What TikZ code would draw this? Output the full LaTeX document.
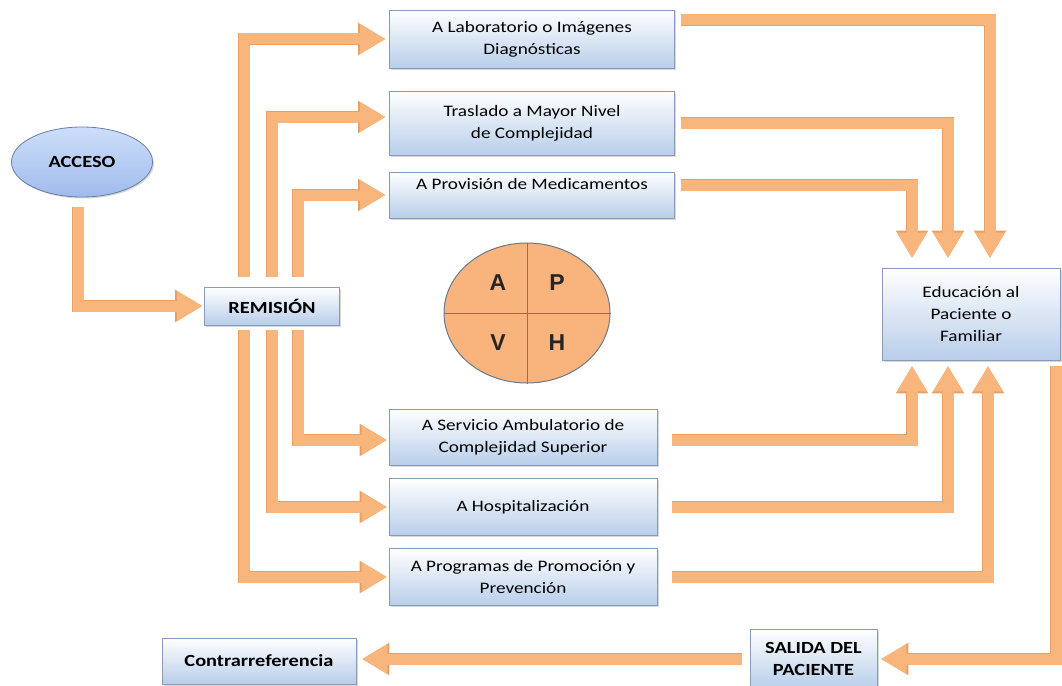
\documentclass[tikz,border=0pt]{standalone}
\usepackage{fontspec}
\setmainfont{Carlito}[FakeStretch=1.2]
\newfontfamily\letterfont{Liberation Sans}
\usetikzlibrary{arrows.meta,shadows,shapes.geometric}
\definecolor{arrfill}{RGB}{249,182,124}
\definecolor{arredge}{RGB}{233,160,100}
\definecolor{boxbot}{RGB}{184,206,234}
\definecolor{boxedge}{RGB}{135,155,185}
\definecolor{ovaltop}{RGB}{205,222,250}
\definecolor{ovalbot}{RGB}{160,188,236}
\definecolor{ovaledge}{RGB}{105,125,165}
\definecolor{apvhfill}{RGB}{248,180,124}
\definecolor{apvhedge}{RGB}{110,120,140}
\begin{document}
\begin{tikzpicture}[x=1pt,y=-1pt,
  box/.style={draw=boxedge, line width=0.8pt, top color=white, bottom color=boxbot,
    drop shadow={shadow xshift=1.5pt,shadow yshift=-1.5pt,opacity=0.3},
    align=center, font=\fontsize{16}{22}\selectfont, inner sep=2pt},
  boldbox/.style={box, font=\fontsize{17}{22}\selectfont\bfseries},
  arr/.style={draw=arrfill, line width=11pt, line join=miter,
    -{Triangle[width=30pt,length=25pt,line width=0pt]},
    preaction={draw=arredge, line width=12.6pt, line join=miter,
      -{Triangle[width=32.5pt,length=27pt,line width=0pt]}}},
  letter/.style={font=\letterfont\bfseries\fontsize{23}{23}\selectfont, text=black!85}
]
\fill[white] (0,0) rectangle (1062,685);
\useasboundingbox (0,0) rectangle (1062,685);

% nodes
\node[ellipse, draw=ovaledge, line width=0.8pt, top color=ovaltop, bottom color=ovalbot,
  drop shadow={shadow xshift=1.5pt,shadow yshift=-1.5pt,opacity=0.3},
  minimum width=141pt, minimum height=70pt, inner sep=0pt,
  font=\fontsize{17}{22}\selectfont\bfseries] (acceso) at (82,162) {ACCESO};
\node[boldbox, minimum width=135pt, minimum height=38pt] (remision) at (272,306) {REMISIÓN};

\node[box, minimum width=285pt, minimum height=58pt] (lab) at (532,39) {A Laboratorio o Imágenes\\Diagnósticas};
\node[box, minimum width=285pt, minimum height=64pt] (tras) at (532,123) {Traslado a Mayor Nivel\\de Complejidad};
\node[box, minimum width=285pt, minimum height=46pt] (prov) at (532,195) {A Provisión de Medicamentos\\\mbox{}};

\node[box, minimum width=268pt, minimum height=56pt] (serv) at (523,437) {A Servicio Ambulatorio de\\Complejidad Superior};
\node[box, minimum width=268pt, minimum height=57pt] (hosp) at (523,507) {A Hospitalización};
\node[box, minimum width=268pt, minimum height=57pt] (prog) at (523,577) {A Programas de Promoción y\\Prevención};

\node[box, minimum width=178pt, minimum height=92pt] (educ) at (971,314) {Educación al\\Paciente o\\Familiar};
\node[boldbox, minimum width=127pt, minimum height=60pt] (salida) at (813.5,659) {SALIDA DEL\\PACIENTE};
\node[boldbox, minimum width=194pt, minimum height=46pt] (contra) at (259,661) {Contrarreferencia};

% APVH circle
\node[ellipse, draw=apvhedge, line width=1pt, fill=apvhfill,
  minimum width=166pt, minimum height=140pt, inner sep=0pt] (apvh) at (527,313) {};
\draw[apvhedge, line width=1pt] (apvh.north) -- (apvh.south);
\draw[apvhedge, line width=1pt] (apvh.west) -- (apvh.east);
\node[letter] (la) at (498,283) {A};
\node[letter] (lp) at (557,283) {P};
\node[letter] (lv) at (498,343) {V};
\node[letter] (lh) at (557,343) {H};

% connectors
\draw[arr] ([xshift=-4pt,yshift=-10pt]acceso.south) |- ([xshift=-2pt]remision.west);

\draw[arr] ([xshift=-28pt,yshift=10pt]remision.north) |- ([xshift=-4pt]lab.west);
\draw[arr] ([yshift=10pt]remision.north) |- ([xshift=-4pt,yshift=6pt]tras.west);
\draw[arr] ([xshift=26pt,yshift=10pt]remision.north) |- ([xshift=-4pt]prov.west);
\draw[arr] ([xshift=26pt,yshift=-5pt]remision.south) |- ([xshift=-2pt,yshift=-3pt]serv.west);
\draw[arr] ([yshift=-5pt]remision.south) |- ([xshift=-2pt]hosp.west);
\draw[arr] ([xshift=-28pt,yshift=-5pt]remision.south) |- ([xshift=-2pt]prog.west);

\draw[arr] ([xshift=6pt,yshift=19pt]lab.east) -| ([xshift=19pt,yshift=10pt]educ.north);
\draw[arr] ([xshift=6pt]tras.east) -| ([xshift=-23pt,yshift=10pt]educ.north);
\draw[arr] ([xshift=6pt,yshift=10pt]prov.east) -| ([xshift=-59pt,yshift=10pt]educ.north);

\draw[arr] ([xshift=15pt,yshift=-3pt]serv.east) -| ([xshift=-59pt,yshift=-6pt]educ.south);
\draw[arr] ([xshift=15pt]hosp.east) -| ([xshift=-23pt,yshift=-6pt]educ.south);
\draw[arr] ([xshift=15pt]prog.east) -| ([xshift=17pt,yshift=-6pt]educ.south);

\draw[arr] ([xshift=85pt,yshift=-6pt]educ.south) |- ([xshift=4pt]salida.east);
\draw[arr] ([xshift=-8pt]salida.west) -- ([xshift=6pt]contra.east |- salida.west);
\end{tikzpicture}
\end{document}
